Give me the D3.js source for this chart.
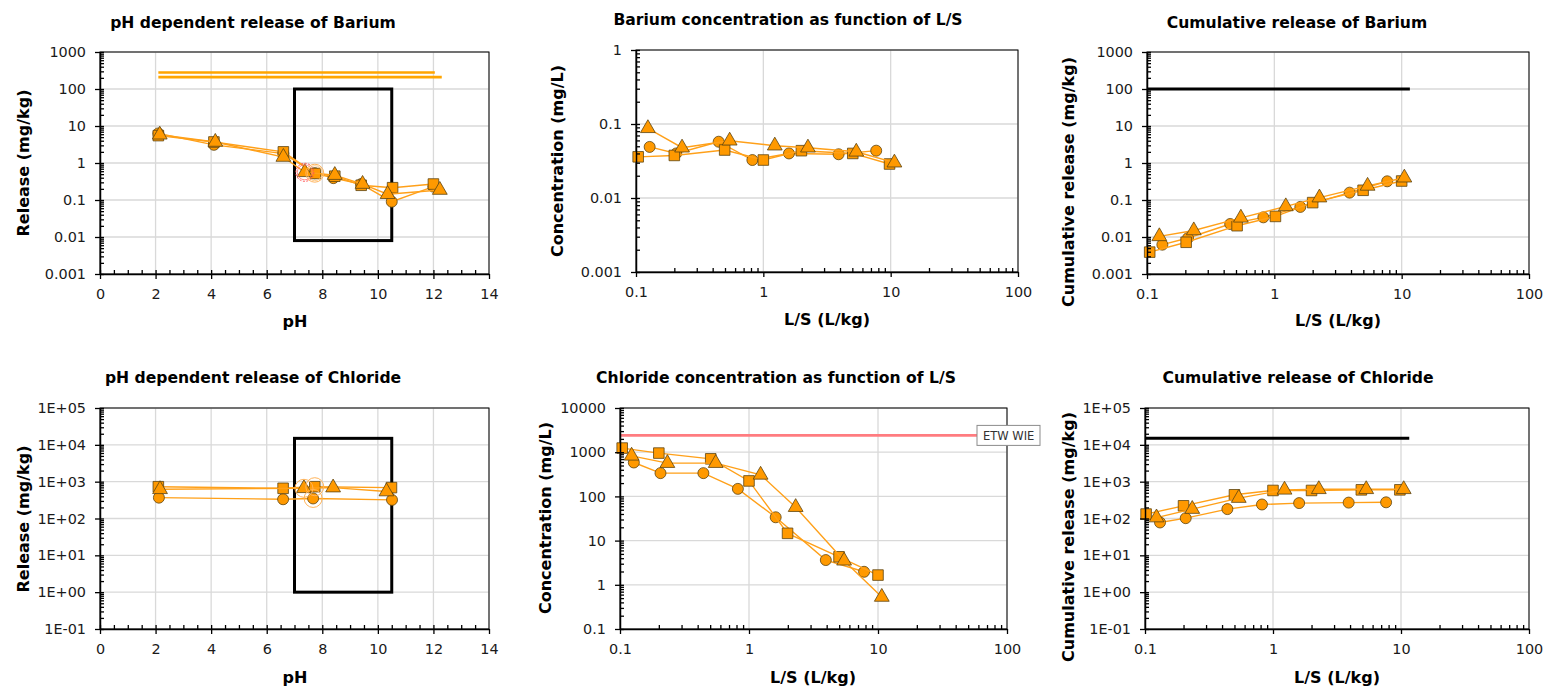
<!DOCTYPE html>
<html>
<head>
<meta charset="utf-8">
<script src="https://cdn.jsdelivr.net/npm/d3@7"></script>
<style>
  html, body { margin: 0; padding: 0; background: #fff; }
  svg { display: block; font-family: "DejaVu Sans", Verdana, sans-serif; }
</style>
</head>
<body>
<svg id="chart" width="1546" height="688"></svg>
<script>
// ---- data ----
// Barium, pH dependent release [pH, mg/kg]
const baPhCircle = [[2.1, 6.3], [4.1, 3.1], [6.6, 1.8], [7.73, 0.53], [8.4, 0.39], [9.4, 0.27], [10.5, 0.09], [12.0, 0.23]];
const baPhSquare = [[2.1, 5.5], [4.1, 3.7], [6.6, 2.0], [7.75, 0.52], [8.45, 0.44], [9.4, 0.25], [10.53, 0.215], [12.0, 0.27]];
const baPhTriangle = [[2.15, 5.8], [4.15, 3.7], [6.6, 1.45], [7.37, 0.56], [8.45, 0.47], [9.45, 0.27], [10.35, 0.143], [12.23, 0.186]];
const baPhRefLines = [[2.1, 12.05, 280], [2.1, 12.3, 210]]; // [pH from, pH to, level]
const baPhBox = [7, 10.5, 0.008, 100];
const baPhNatural = [[7.37, 0.56], [7.73, 0.53]];

// Barium concentration vs L/S [L/kg, mg/L]
const baConcCircle = [[0.128, 0.049], [0.207, 0.040], [0.446, 0.0576], [0.82, 0.0326], [1.59, 0.040], [3.9, 0.039], [7.7, 0.0436]];
const baConcSquare = [[0.104, 0.036], [0.2, 0.0376], [0.497, 0.0445], [1.0, 0.0326], [1.99, 0.0436], [5.04, 0.040], [9.8, 0.0288]];
const baConcTriangle = [[0.124, 0.0875], [0.23, 0.0478], [0.544, 0.0594], [1.23, 0.0509], [2.24, 0.0478], [5.37, 0.0421], [10.7, 0.030]];

// Barium cumulative release [L/kg, mg/kg]
const baCumCircle = [[0.132, 0.0062], [0.21, 0.0094], [0.45, 0.0225], [0.82, 0.034], [1.6, 0.065], [3.9, 0.158], [7.7, 0.32]];
const baCumSquare = [[0.105, 0.0039], [0.203, 0.0072], [0.51, 0.0202], [1.02, 0.036], [2.0, 0.085], [4.98, 0.183], [10, 0.326]];
const baCumTriangle = [[0.125, 0.0104], [0.233, 0.015], [0.546, 0.033], [1.23, 0.067], [2.26, 0.116], [5.4, 0.24], [10.5, 0.40]];
const baCumLimit = [0.1, 11.6, 100];

// Chloride, pH dependent release [pH, mg/kg]
const clPhCircle = [[2.12, 368], [6.59, 333], [7.67, 350], [10.51, 320]];
const clPhSquare = [[2.1, 730], [6.59, 660], [7.73, 730], [10.49, 690]];
const clPhTriangle = [[2.16, 620], [7.34, 660], [8.39, 690], [10.31, 540]];
const clPhBox = [7, 10.5, 1, 15000];
const clPhNatural = [[7.34, 660], [7.73, 730], [7.67, 350]];

// Chloride concentration vs L/S [L/kg, mg/L]
const clConcCircle = [[0.128, 585], [0.206, 336], [0.443, 336], [0.82, 148], [1.61, 33.7], [3.94, 3.63], [7.8, 1.97]];
const clConcSquare = [[0.104, 1240], [0.2, 955], [0.505, 708], [1.0, 224], [1.99, 14.6], [4.99, 4.3], [10, 1.66]];
const clConcTriangle = [[0.123, 828], [0.233, 565], [0.552, 565], [1.23, 307], [2.3, 57], [5.46, 3.5], [10.7, 0.53]];
const clConcLimit = [0.1, 100, 2400];
const clConcLimitLabel = 'ETW WIE';

// Chloride cumulative release [L/kg, mg/kg]
const clCumCircle = [[0.131, 78], [0.208, 102], [0.44, 180], [0.82, 240], [1.6, 262], [3.9, 270], [7.65, 275]];
const clCumSquare = [[0.102, 132], [0.2, 221], [0.5, 440], [1.0, 577], [2.0, 577], [4.9, 600], [9.8, 600]];
const clCumTriangle = [[0.123, 106], [0.234, 180], [0.54, 358], [1.23, 600], [2.28, 620], [5.35, 620], [10.5, 620]];
const clCumLimit = [0.1, 11.6, 15000];

// tick values
const phTicks = [0, 2, 4, 6, 8, 10, 12, 14];
const lsTicks = [0.1, 1, 10, 100];
const baRelTicks = [0.001, 0.01, 0.1, 1, 10, 100, 1000];
const baConcTicks = [0.001, 0.01, 0.1, 1];
const clRelTicks = [0.1, 1, 10, 100, 1000, 10000, 100000];
const clConcTicks = [0.1, 1, 10, 100, 1000, 10000];

// ---- drawing ----
const svg = d3.select('#chart');
const LINE = '#FFA019';
const FILL = '#FF9900';
const EDGE = '#5c4412';
const GRID = '#d9d9d9';

const plain = (v) => d3.format('~g')(v);
const sci = (v) => {
  const e = Math.round(Math.log10(v));
  return '1E' + (e < 0 ? '-' : '+') + String(Math.abs(e)).padStart(2, '0');
};

function logMinors(ticks) {
  const out = [];
  ticks.slice(0, -1).forEach((t) => { for (let k = 2; k <= 9; k++) out.push(t * k); });
  return out;
}

function drawPanel(o) {
  const g = svg.append('g');
  const x = o.xLog
    ? d3.scaleLog().domain(d3.extent(o.xTicks)).range([o.left, o.right])
    : d3.scaleLinear().domain(d3.extent(o.xTicks)).range([o.left, o.right]);
  const y = d3.scaleLog().domain(d3.extent(o.yTicks)).range([o.bottom, o.top]);

  // gridlines
  g.append('g').selectAll('line').data(o.xTicks).join('line')
    .attr('x1', (d) => x(d)).attr('x2', (d) => x(d))
    .attr('y1', o.top).attr('y2', o.bottom)
    .attr('stroke', GRID).attr('stroke-width', 1.3);
  g.append('g').selectAll('line').data(o.yTicks).join('line')
    .attr('x1', o.left).attr('x2', o.right)
    .attr('y1', (d) => y(d)).attr('y2', (d) => y(d))
    .attr('stroke', GRID).attr('stroke-width', 1.3);

  // plot frame
  g.append('rect')
    .attr('x', o.left).attr('y', o.top)
    .attr('width', o.right - o.left).attr('height', o.bottom - o.top)
    .attr('fill', 'none').attr('stroke', '#000').attr('stroke-width', 1);

  // extra reference marks
  if (o.box) {
    const [x0, x1, y0, y1] = o.box;
    g.append('rect')
      .attr('x', x(x0)).attr('y', y(y1))
      .attr('width', x(x1) - x(x0)).attr('height', y(y0) - y(y1))
      .attr('fill', 'none').attr('stroke', '#000').attr('stroke-width', 3);
  }
  (o.refLines || []).forEach((r) => {
    g.append('line')
      .attr('x1', x(r[0])).attr('x2', x(r[1]))
      .attr('y1', y(r[2])).attr('y2', y(r[2]))
      .attr('stroke', o.refColor).attr('stroke-width', o.refWidth);
  });

  // series
  const line = d3.line().x((d) => x(d[0])).y((d) => y(d[1]));
  const shapes = [d3.symbolCircle, d3.symbolSquare, d3.symbolTriangle];
  const sizes = [95, 112, 95];
  o.series.forEach((s, i) => {
    g.append('path').datum(s)
      .attr('d', line)
      .attr('fill', 'none').attr('stroke', LINE).attr('stroke-width', 1.4);
    g.append('g').selectAll('path').data(s).join('path')
      .attr('transform', (d) => `translate(${x(d[0])},${y(d[1])})`)
      .attr('d', d3.symbol(shapes[i], sizes[i]))
      .attr('fill', FILL).attr('stroke', EDGE).attr('stroke-width', 0.8);
  });

  // highlighted natural-pH points
  (o.natural || []).forEach((p, i) => {
    const red = o.naturalRed && i === 0;
    g.append('circle')
      .attr('cx', x(p[0])).attr('cy', y(p[1])).attr('r', 9)
      .attr('fill', 'none')
      .attr('stroke', red ? '#ff5050' : '#ffb45a')
      .attr('stroke-width', 1)
      .attr('stroke-dasharray', red ? '2,1.5' : null);
    if (o.naturalRed) {
      g.append('circle')
        .attr('cx', x(p[0])).attr('cy', y(p[1])).attr('r', 7.5)
        .attr('fill', 'none').attr('stroke', red ? '#ff7070' : '#ffc070').attr('stroke-width', 0.8);
    }
  });

  // limit label
  if (o.limitLabel) {
    const ly = y(o.refLines[0][2]);
    const lx = o.right - 30;
    g.append('rect')
      .attr('x', lx).attr('y', ly - 10).attr('width', 63).attr('height', 20)
      .attr('fill', '#fff').attr('stroke', '#8c8c8c').attr('stroke-width', 1);
    g.append('text')
      .attr('x', lx + 6).attr('y', ly + 4.5)
      .attr('font-size', '11.5px').attr('fill', '#333')
      .text(o.limitLabel);
  }

  // axes
  const yAxis = g.append('g').attr('transform', `translate(${o.left},0)`)
    .call(d3.axisLeft(y).tickValues(o.yTicks).tickFormat(o.yFormat).tickSizeInner(5).tickSizeOuter(0).tickPadding(9));
  g.append('g').attr('transform', `translate(${o.left},0)`)
    .call(d3.axisRight(y).tickValues(o.yTicks.concat(logMinors(o.yTicks))).tickFormat('').tickSize(4).tickSizeOuter(0))
    .call((a) => a.select('.domain').remove());

  const xMinor = o.xLog ? logMinors(o.xTicks) : d3.range(o.xTicks[0], o.xTicks[o.xTicks.length - 1], 0.5);
  const xAxis = g.append('g').attr('transform', `translate(0,${o.bottom})`)
    .call(d3.axisBottom(x).tickValues(o.xTicks).tickFormat(o.xLog ? plain : d3.format('d')).tickSizeInner(5).tickSizeOuter(0).tickPadding(10));
  g.append('g').attr('transform', `translate(0,${o.bottom})`)
    .call(d3.axisTop(x).tickValues(xMinor).tickFormat('').tickSize(4).tickSizeOuter(0))
    .call((a) => a.select('.domain').remove());

  [yAxis, xAxis].forEach((a) => {
    a.select('.domain').attr('stroke', '#000').attr('stroke-width', 1.5);
    a.selectAll('text').attr('font-size', '14.4px').attr('fill', '#1a1a1a')
      .attr('font-family', '"DejaVu Sans", Verdana, sans-serif');
  });
  g.selectAll('.tick line').attr('stroke', '#000').attr('stroke-width', 1.3);

  // titles
  g.append('text')
    .attr('x', o.title[1]).attr('y', o.title[2])
    .attr('text-anchor', 'middle').attr('dominant-baseline', 'central')
    .attr('font-size', '15.6px').attr('font-weight', 'bold').attr('fill', '#000')
    .text(o.title[0]);
  g.append('text')
    .attr('transform', `translate(${o.yTitle[1]},${o.yTitle[2]}) rotate(-90)`)
    .attr('text-anchor', 'middle').attr('dominant-baseline', 'central')
    .attr('font-size', '16px').attr('font-weight', 'bold').attr('fill', '#000')
    .text(o.yTitle[0]);
  g.append('text')
    .attr('x', o.xTitle[1]).attr('y', o.xTitle[2])
    .attr('text-anchor', 'middle').attr('dominant-baseline', 'central')
    .attr('font-size', '16px').attr('font-weight', 'bold').attr('fill', '#000')
    .text(o.xTitle[0]);
}

drawPanel({
  left: 100, right: 489, top: 52, bottom: 274,
  xTicks: phTicks, yTicks: baRelTicks, yFormat: plain,
  series: [baPhCircle, baPhSquare, baPhTriangle],
  box: baPhBox,
  refLines: baPhRefLines, refColor: '#FFA500', refWidth: 2.6,
  natural: baPhNatural, naturalRed: true,
  title: ['pH dependent release of Barium', 253, 23],
  yTitle: ['Release (mg/kg)', 23, 163],
  xTitle: ['pH', 295, 321],
});

drawPanel({
  xLog: true,
  left: 636, right: 1018, top: 50, bottom: 272,
  xTicks: lsTicks, yTicks: baConcTicks, yFormat: plain,
  series: [baConcCircle, baConcSquare, baConcTriangle],
  title: ['Barium concentration as function of L/S', 788, 20],
  yTitle: ['Concentration (mg/L)', 557, 161],
  xTitle: ['L/S (L/kg)', 827, 319],
});

drawPanel({
  xLog: true,
  left: 1147, right: 1529, top: 52, bottom: 274,
  xTicks: lsTicks, yTicks: baRelTicks, yFormat: plain,
  series: [baCumCircle, baCumSquare, baCumTriangle],
  refLines: [baCumLimit], refColor: '#000', refWidth: 3,
  title: ['Cumulative release of Barium', 1297, 23],
  yTitle: ['Cumulative release (mg/kg)', 1068, 182],
  xTitle: ['L/S (L/kg)', 1338, 320],
});

drawPanel({
  left: 100, right: 489, top: 408, bottom: 629,
  xTicks: phTicks, yTicks: clRelTicks, yFormat: sci,
  series: [clPhCircle, clPhSquare, clPhTriangle],
  box: clPhBox,
  natural: clPhNatural,
  title: ['pH dependent release of Chloride', 253, 378],
  yTitle: ['Release (mg/kg)', 23, 519],
  xTitle: ['pH', 295, 677],
});

drawPanel({
  xLog: true,
  left: 620, right: 1007, top: 408, bottom: 629,
  xTicks: lsTicks, yTicks: clConcTicks, yFormat: plain,
  series: [clConcCircle, clConcSquare, clConcTriangle],
  refLines: [clConcLimit], refColor: '#FF7C80', refWidth: 2.6,
  limitLabel: clConcLimitLabel,
  title: ['Chloride concentration as function of L/S', 776, 378],
  yTitle: ['Concentration (mg/L)', 545, 518],
  xTitle: ['L/S (L/kg)', 813, 677],
});

drawPanel({
  xLog: true,
  left: 1145, right: 1529, top: 408, bottom: 629,
  xTicks: lsTicks, yTicks: clRelTicks, yFormat: sci,
  series: [clCumCircle, clCumSquare, clCumTriangle],
  refLines: [clCumLimit], refColor: '#000', refWidth: 3,
  title: ['Cumulative release of Chloride', 1298, 378],
  yTitle: ['Cumulative release (mg/kg)', 1068, 537],
  xTitle: ['L/S (L/kg)', 1337, 677],
});
</script>
</body>
</html>
